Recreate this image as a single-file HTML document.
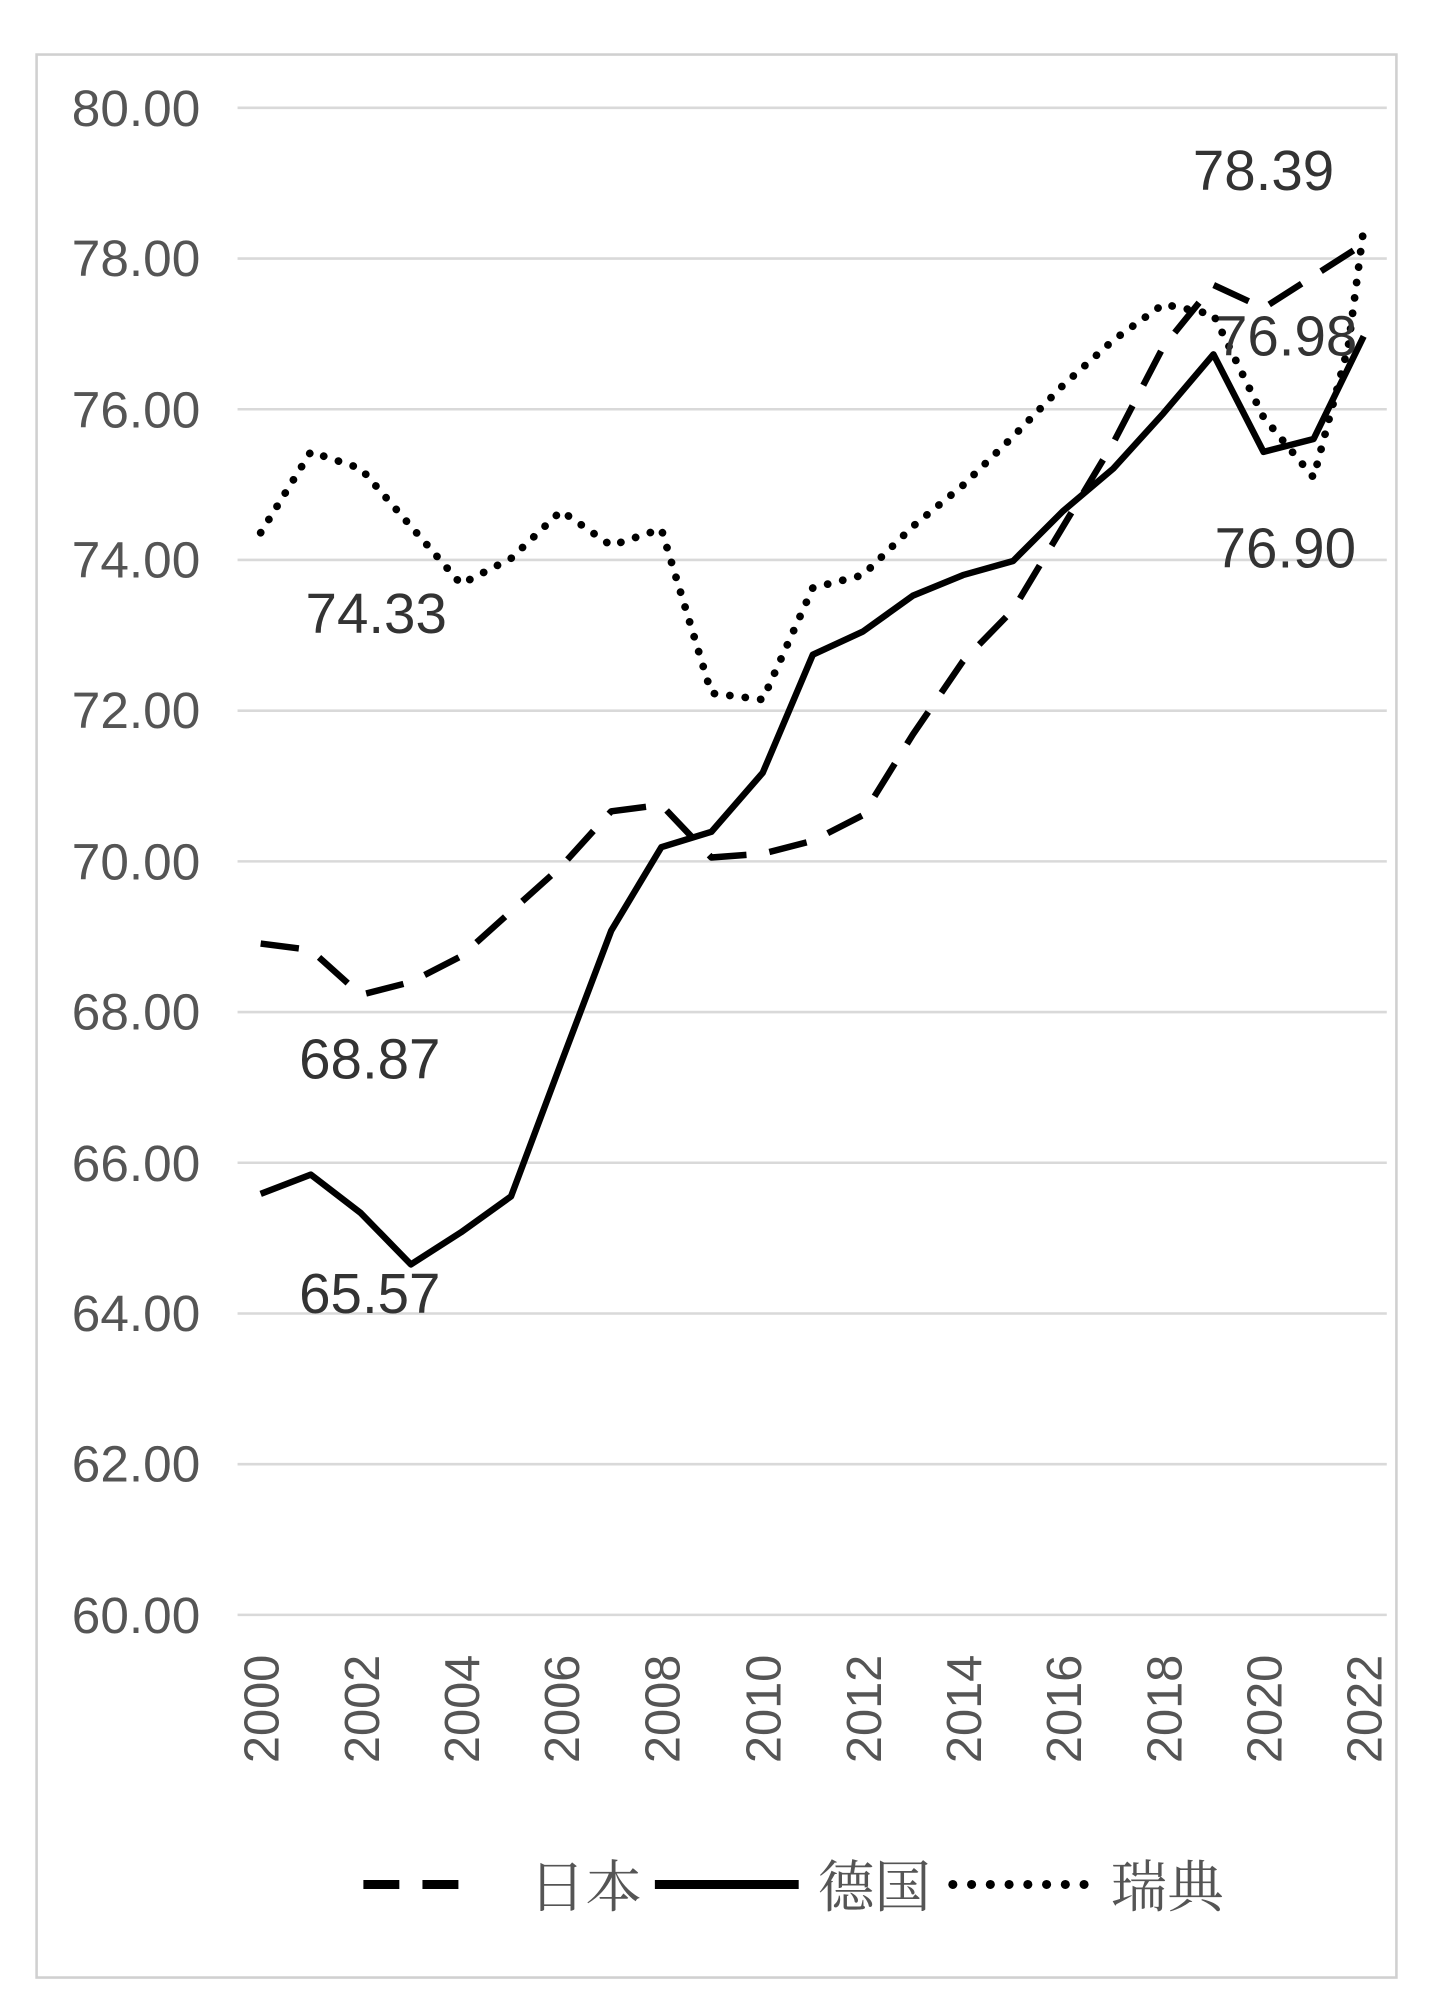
<!DOCTYPE html>
<html><head><meta charset="utf-8"><style>
html,body{margin:0;padding:0;background:#fff;}
svg{display:block;}
</style></head><body>
<svg width="1442" height="2000" viewBox="0 0 1123 1558" preserveAspectRatio="none" xmlns="http://www.w3.org/2000/svg">
<rect x="0" y="0" width="1123" height="1558" fill="#fff"/>
<rect x="28.5" y="42.5" width="1059" height="1498" fill="none" stroke="#d0d0d0" stroke-width="2"/>
<g stroke="#d9d9d9" stroke-width="2">
<line x1="185" x2="1080" y1="84" y2="84"/><line x1="185" x2="1080" y1="201.4" y2="201.4"/>
<line x1="185" x2="1080" y1="318.8" y2="318.8"/><line x1="185" x2="1080" y1="436.2" y2="436.2"/>
<line x1="185" x2="1080" y1="553.6" y2="553.6"/><line x1="185" x2="1080" y1="671" y2="671"/>
<line x1="185" x2="1080" y1="788.4" y2="788.4"/><line x1="185" x2="1080" y1="905.8" y2="905.8"/>
<line x1="185" x2="1080" y1="1023.2" y2="1023.2"/><line x1="185" x2="1080" y1="1140.6" y2="1140.6"/>
<line x1="185" x2="1080" y1="1258" y2="1258"/>
</g>
<g font-family="Liberation Sans, sans-serif" font-size="40" fill="#555" text-anchor="end">
<text x="156" y="98">80.00</text><text x="156" y="215">78.00</text><text x="156" y="333">76.00</text>
<text x="156" y="450">74.00</text><text x="156" y="567">72.00</text><text x="156" y="685">70.00</text>
<text x="156" y="802">68.00</text><text x="156" y="920">66.00</text><text x="156" y="1037">64.00</text>
<text x="156" y="1154">62.00</text><text x="156" y="1272">60.00</text>
</g>
<g font-family="Liberation Sans, sans-serif" font-size="38" fill="#555" text-anchor="end">
<text transform="translate(217,1289) rotate(-90)">2000</text>
<text transform="translate(295,1289) rotate(-90)">2002</text>
<text transform="translate(373,1289) rotate(-90)">2004</text>
<text transform="translate(451,1289) rotate(-90)">2006</text>
<text transform="translate(529,1289) rotate(-90)">2008</text>
<text transform="translate(608,1289) rotate(-90)">2010</text>
<text transform="translate(686,1289) rotate(-90)">2012</text>
<text transform="translate(764,1289) rotate(-90)">2014</text>
<text transform="translate(842,1289) rotate(-90)">2016</text>
<text transform="translate(920,1289) rotate(-90)">2018</text>
<text transform="translate(998,1289) rotate(-90)">2020</text>
<text transform="translate(1076,1289) rotate(-90)">2022</text>
</g>
<g fill="none" stroke="#000" stroke-width="5" stroke-linejoin="round">
<polyline stroke-dasharray="30 18" points="203,735 242,740 281,775 320,765 359,745 398,710 437,675 476,632 515,627 554,668 594,665 633,655 672,635 711,572 750,515 789,475 828,410 867,345 906,270 945,222 984,240 1023,215 1062,190"/>
<polyline points="203,930 242,915 281,945 320,985 359,960 398,932 437,828 476,725 515,660 554,648 594,602 633,510 672,492 711,464 750,448 789,437 828,398 867,365 906,322 945,276 984,352 1023,342 1062,262"/>
<polyline stroke-dasharray="0.1 12" stroke-linecap="round" stroke-width="6" points="203,415 242,352 281,365 320,410 359,455 398,435 437,398 476,425 515,412 554,540 594,545 633,458 672,448 711,410 750,378 789,340 828,300 867,265 906,237 945,245 984,325 1023,372 1050,270 1062,178"/>
</g>
<g font-family="Liberation Sans, sans-serif" font-size="44" fill="#333" text-anchor="middle">
<text x="984" y="148">78.39</text>
<text x="1002" y="277">76.98</text>
<text x="1001" y="442">76.90</text>
<text x="293" y="493">74.33</text>
<text x="288" y="840">68.87</text>
<text x="288" y="1023">65.57</text>
</g>
<g stroke="#000" stroke-width="7">
<line x1="283" x2="368" y1="1468" y2="1468" stroke-dasharray="28 18"/>
<line x1="510" x2="622" y1="1468" y2="1468"/>
<line x1="742" x2="845" y1="1468" y2="1468" stroke-dasharray="0.1 14.5" stroke-linecap="round" stroke-width="7"/>
</g>
<g font-family="Liberation Serif, 'Noto Serif CJK SC', serif" font-size="44" fill="#555">
<text x="412" y="1485">日本</text>
<text x="637" y="1485">德国</text>
<text x="865" y="1485">瑞典</text>
</g>
</svg>
</body></html>
